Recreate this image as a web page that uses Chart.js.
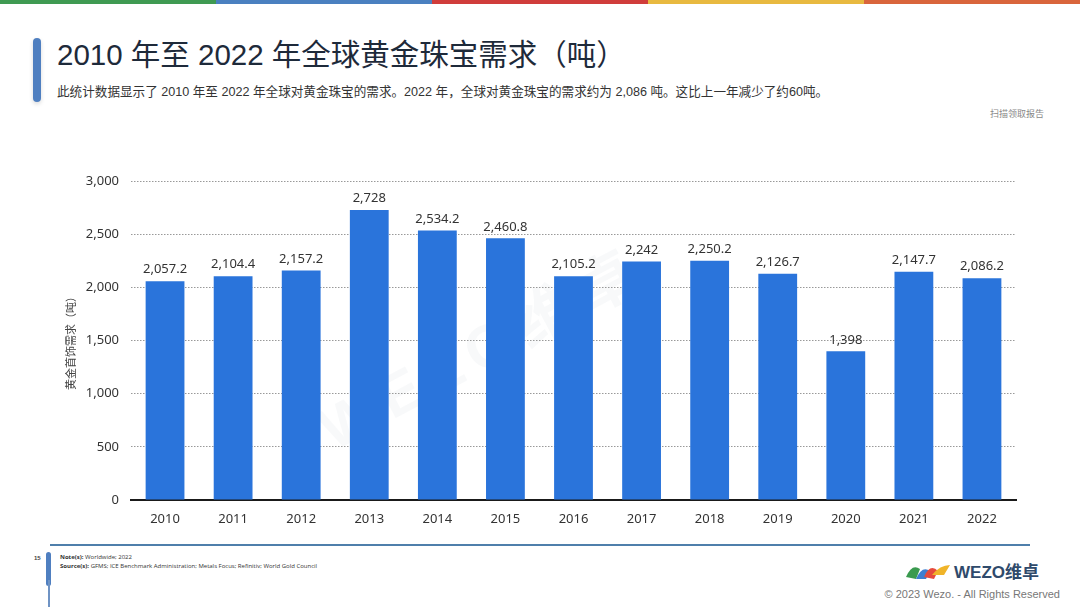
<!DOCTYPE html>
<html>
<head>
<meta charset="utf-8">
<script src="https://cdn.jsdelivr.net/npm/chart.js@4.4.0/dist/chart.umd.min.js"></script>
<style>
  html,body{margin:0;padding:0;background:#fff;}
  body{width:1080px;height:607px;position:relative;overflow:hidden;font-family:"Liberation Sans","Noto Sans CJK SC",sans-serif;}
  .strip{position:absolute;top:0;height:4px;width:216px;}
  .titlebar{position:absolute;left:33px;top:38px;width:8px;height:64px;border-radius:4px;background:#4f7fc0;box-shadow:0 2px 4px rgba(0,0,0,0.15);}
  .title{position:absolute;left:57px;top:31px;font-size:29.5px;color:#1e2a3a;white-space:nowrap;}
  .sub{position:absolute;left:57px;top:81px;font-size:12.6px;color:#333;white-space:nowrap;}
  .scan{position:absolute;right:36px;top:107px;font-size:9px;color:#888;}
  .chartbox{position:absolute;left:64px;top:160px;width:976px;height:380px;}
  .foot-line{position:absolute;left:50px;top:544px;width:980px;height:2px;background:#4f7fab;}
  .vbar{position:absolute;left:46px;top:552px;width:5px;height:34px;border-radius:3px;background:#4f7fc0;}
  .vline{position:absolute;left:48px;top:580px;width:1.5px;height:27px;background:#6f93c4;}
  .pg{position:absolute;left:34px;top:555px;font-size:6px;color:#444;font-weight:bold;}
  .note{position:absolute;left:60px;top:553px;font-size:6px;line-height:9px;color:#333;font-family:"Open Sans","Liberation Sans",sans-serif;}
  .note b{font-weight:bold;}
  .logo{position:absolute;left:904px;top:559px;}
  .copy{position:absolute;right:20px;top:588px;font-size:11px;color:#777;font-family:"Liberation Sans",sans-serif;}
  .wm{position:absolute;left:300px;top:300px;font-size:60px;color:rgba(160,170,190,0.07);transform:rotate(-28deg);font-weight:bold;letter-spacing:10px;}
</style>
</head>
<body>
<div class="strip" style="left:0;background:#3f9a52;"></div>
<div class="strip" style="left:216px;background:#4a80c0;"></div>
<div class="strip" style="left:432px;background:#d03d3b;"></div>
<div class="strip" style="left:648px;background:#e8b940;"></div>
<div class="strip" style="left:864px;background:#d9653c;"></div>

<div class="titlebar"></div>
<div class="title">2010 年至 2022 年全球黄金珠宝需求（吨）</div>
<div class="sub">此统计数据显示了 2010 年至 2022 年全球对黄金珠宝的需求。2022 年，全球对黄金珠宝的需求约为 2,086 吨。这比上一年减少了约60吨。</div>
<div class="scan">扫描领取报告</div>
<div class="wm">WEZO维卓</div>

<div class="chartbox"><canvas id="chart"></canvas></div>

<div class="foot-line"></div>
<div class="vbar"></div>
<div class="vline"></div>
<div class="pg">15</div>
<div class="note"><b>Note(s):</b> Worldwide; 2022<br><b>Source(s):</b> GFMS; ICE Benchmark Administration; Metals Focus; Refinitiv; World Gold Council</div>
<div class="logo">
  <svg width="156" height="24" viewBox="0 0 156 24">
    <path d="M2 18 Q8 4 16 10 L12 20 Z" fill="#3a9a4f"/>
    <path d="M12 20 Q18 6 26 12 L22 20 Z" fill="#3f7fd0"/>
    <path d="M20 18 Q26 4 34 12 L30 20 Z" fill="#e64a3c"/>
    <path d="M28 16 Q36 6 46 6 L40 16 Z" fill="#f0b429"/>
    <text x="50" y="19" font-family="Liberation Sans, Noto Sans CJK SC" font-size="17" font-weight="bold" fill="#2f4a6b">WEZO维卓</text>
  </svg>
</div>
<div class="copy">© 2023 Wezo. - All Rights Reserved</div>

<script>
// ── 数据 ──
const years  = ['2010','2011','2012','2013','2014','2015','2016','2017','2018','2019','2020','2021','2022'];
const demand = [2057.2, 2104.4, 2157.2, 2728, 2534.2, 2460.8, 2105.2, 2242, 2250.2, 2126.7, 1398, 2147.7, 2086.2];
const yTicks = [0, 500, 1000, 1500, 2000, 2500, 3000];

const fmt = v => v.toLocaleString('en-US', { maximumFractionDigits: 1 });

// 柱顶数值
const valueLabels = {
  id: 'valueLabels',
  afterDatasetsDraw(chart) {
    const ctx = chart.ctx;
    const meta = chart.getDatasetMeta(0);
    ctx.save();
    ctx.font = '13px "Noto Sans", "Open Sans", sans-serif';
    ctx.fillStyle = '#333';
    ctx.textAlign = 'center';
    ctx.textBaseline = 'bottom';
    meta.data.forEach((bar, i) => {
      ctx.fillText(fmt(demand[i]), bar.x, bar.y - 5);
    });
    ctx.restore();
  }
};

new Chart(document.getElementById('chart'), {
  type: 'bar',
  data: {
    labels: years,
    datasets: [{
      data: demand,
      backgroundColor: '#2a74db',
      barPercentage: 0.57,
      categoryPercentage: 1
    }]
  },
  options: {
    responsive: true,
    maintainAspectRatio: false,
    animation: false,
    layout: { padding: { top: 21, right: 24, left: 0, bottom: 0 } },
    plugins: { legend: { display: false }, tooltip: { enabled: false } },
    scales: {
      x: {
        grid: { display: false },
        border: { display: true, color: '#1a1a1a', width: 2 },
        ticks: { color: '#333', padding: 3, font: { size: 13, family: '"Noto Sans", "Open Sans", sans-serif' } },
        afterFit(scale) { scale.height = 40; }
      },
      y: {
        min: 0, max: 3000,
        afterBuildTicks(scale) { scale.ticks = yTicks.map(v => ({ value: v })); },
        border: { display: false, dash: [1.5, 1.5] },
        grid: {
          drawTicks: false,
          color: c => c.tick.value === 0 ? 'rgba(0,0,0,0)' : '#999',
          lineWidth: 1
        },
        ticks: {
          color: '#333', padding: 12,
          font: { size: 13, family: '"Noto Sans", "Open Sans", sans-serif' },
          callback: v => fmt(v)
        },
        title: {
          display: true, text: '黄金首饰需求（吨）', color: '#444',
          font: { size: 11, family: '"Noto Sans CJK SC", sans-serif' }, padding: { top: 0, bottom: 0 }
        },
        afterFit(scale) { scale.width = 67; }
      }
    }
  },
  plugins: [valueLabels]
});
</script>
</body>
</html>
